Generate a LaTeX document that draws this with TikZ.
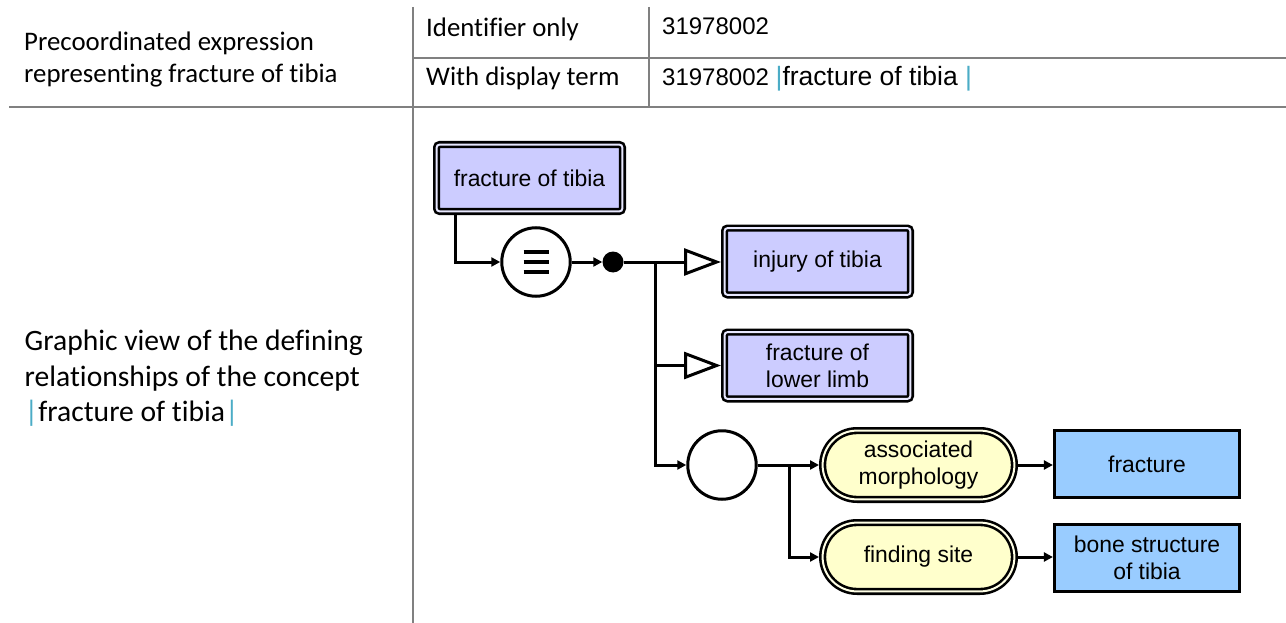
\documentclass[tikz,border=0pt]{standalone}
\usepackage{fontspec}
\newfontfamily\calibfont[Ligatures=NoCommon]{Carlito}
\newfontfamily\arialfont{Liberation Sans}
\usetikzlibrary{arrows.meta,shapes.misc}
\definecolor{gridgray}{RGB}{128,128,128}
\definecolor{termblue}{RGB}{75,172,198}
\definecolor{conceptfill}{RGB}{204,204,255}
\definecolor{attrfill}{RGB}{255,255,204}
\definecolor{valuefill}{RGB}{153,204,255}
\begin{document}
\begin{tikzpicture}[x=1pt,y=-1pt,
  grid/.style={draw=gridgray, line width=2.5pt},
  lbl/.style={anchor=base west, inner sep=0pt, font=\calibfont\fontsize{26.8}{32}\selectfont},
  lblbig/.style={anchor=base west, inner sep=0pt, font=\calibfont\fontsize{29.6}{36}\selectfont},
  code/.style={anchor=base west, inner sep=0pt, font=\arialfont\fontsize{24}{29}\selectfont},
  diag/.style={font=\arialfont\fontsize{22.9}{27}\selectfont, align=center, inner sep=0pt},
  concept/.style={diag, draw=black, line width=2.6pt, double=conceptfill!45!white, double distance=2pt, fill=conceptfill, rounded corners=3pt, minimum width=185.8pt, minimum height=66.8pt, outer sep=3.6pt},
  attr/.style={diag, rounded rectangle, draw=black, line width=2.6pt, double=attrfill!50!white, double distance=2pt, fill=attrfill, minimum width=191.8pt, minimum height=68.8pt, outer sep=3.6pt},
  valbox/.style={diag, draw=black, line width=3.2pt, fill=valuefill, minimum width=185pt, minimum height=67pt, outer sep=1.6pt},
  opcircle/.style={circle, draw=black, line width=3pt, fill=white, minimum size=68.5pt, inner sep=0pt, outer sep=1.5pt},
  joindot/.style={circle, fill=black, minimum size=21pt, inner sep=0pt},
  conn/.style={draw=black, line width=3pt},
  arr/.style={-{Triangle[length=9pt,width=9pt]}},
  isa/.style={-{Triangle[open,length=37pt,width=27pt]}},
]
\useasboundingbox (0,0) rectangle (1286,623);

% table rules
\draw[grid] (413,7) -- (413,623);
\draw[grid] (649,7) -- (649,107);
\draw[grid] (413,58) -- (1286,58);
\draw[grid] (9,107) -- (1286,107);

% table texts
\node[lbl] (pre1) at (24,51) {Precoordinated expression};
\node[lbl] (pre2) at (24,83) {representing fracture of tibia};
\node[lbl] (idl) at (426,37) {Identifier only};
\node[lbl] (wdl) at (426,86) {With display term};
\node[code] (idv) at (662,35) {31978002};
\node[code] (wdv) at (662,86) {31978002 {\fontsize{26.5}{30}\selectfont{\color{termblue}|}fracture of tibia {\color{termblue}|}}};
\node[lblbig] (gv1) at (24.5,350) {Graphic view of the defining};
\node[lblbig] (gv2) at (24.5,386) {relationships of the concept};
\node[lblbig] (gv3) at (24.5,421) {{\color{termblue}|}fracture of tibia{\color{termblue}|}};

% diagram nodes
\node[concept] (ft) at (529.5,178) {fracture of tibia};
\node[opcircle] (eq) at (536,262) {};
\node[joindot] (dot) at (613,262) {};
\node[concept] (inj) at (817.5,261.5) {injury of tibia};
\node[concept] (flr) at (817.5,365.5) {fracture of\\lower limb};
\node[opcircle] (grp) at (722,465) {};
\node[attr] (am) at (918.5,465) {associated\\morphology};
\node[attr] (fs) at (918.5,557) {finding site};
\node[valbox] (frac) at (1147,464) {fracture};
\node[valbox] (bone) at (1147,558) {bone structure\\of tibia};
\coordinate (j1) at (655,262);
\coordinate (j2) at (789,465);

% equivalence symbol
\draw[line width=4.5pt] ([xshift=-12.5pt,yshift=10pt]eq.center) -- ++(25,0);
\draw[line width=4.5pt] ([xshift=-12.5pt]eq.center) -- ++(25,0);
\draw[line width=4.5pt] ([xshift=-12.5pt,yshift=-10pt]eq.center) -- ++(25,0);

% connectors
\draw[conn,arr] ([xshift=-74.5pt]ft.south) |- (eq.west);
\draw[conn,arr] (eq.east) -- (dot.west);
\draw[conn,isa] (dot.east) -- (dot.east -| inj.west);
\draw[conn,isa] (j1) |- (flr.west);
\draw[conn,arr] (j1) |- (grp.west);
\draw[conn,arr] (grp.east) -- (am.west);
\draw[conn,arr] (j2) |- (fs.west);
\draw[conn,arr] (am.east) -- (am.east -| frac.west);
\draw[conn,arr] (fs.east) -- (fs.east -| bone.west);
\end{tikzpicture}
\end{document}
